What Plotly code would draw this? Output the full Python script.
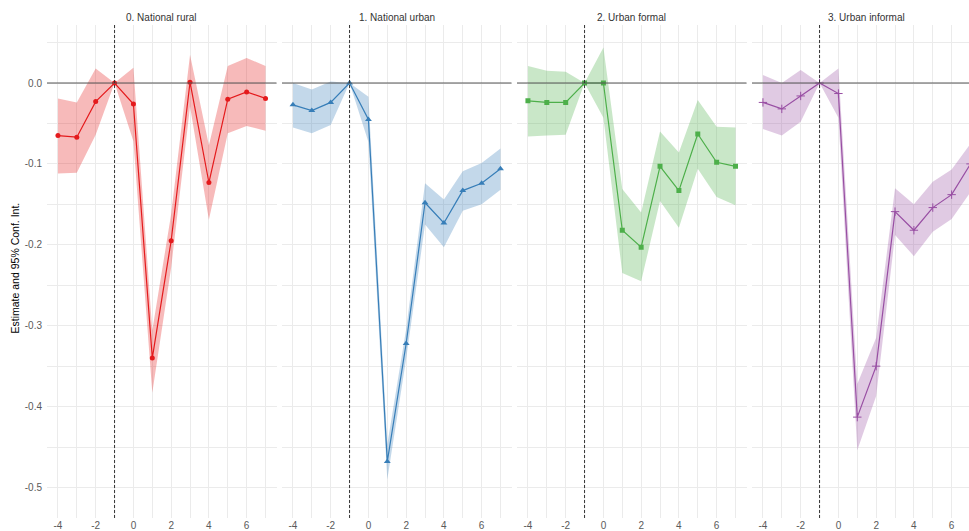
import plotly.graph_objects as go

# Event-time periods (relative to treatment)
periods = [-4, -3, -2, -1, 0, 1, 2, 3, 4, 5, 6, 7]

# Facet titles
panel_titles = ["0. National rural", "1. National urban", "2. Urban formal", "3. Urban informal"]

# Point estimates per sample
est_rural = [-0.065, -0.067, -0.023, 0.0, -0.026, -0.340, -0.195, 0.001, -0.123, -0.020, -0.011, -0.019]
est_urban = [-0.027, -0.034, -0.024, 0.0, -0.045, -0.468, -0.322, -0.148, -0.173, -0.133, -0.124, -0.106]
est_formal = [-0.022, -0.024, -0.024, 0.0, 0.0, -0.182, -0.203, -0.103, -0.133, -0.063, -0.098, -0.103]
est_informal = [-0.024, -0.032, -0.016, 0.0, -0.013, -0.413, -0.350, -0.159, -0.182, -0.154, -0.138, -0.100]

# 95% confidence bounds
hi_rural = [-0.019, -0.024, 0.018, 0.0, 0.019, -0.306, -0.162, 0.035, -0.077, 0.021, 0.031, 0.021]
lo_rural = [-0.112, -0.111, -0.064, 0.0, -0.072, -0.383, -0.228, -0.029, -0.169, -0.062, -0.053, -0.059]
hi_urban = [0.000, -0.008, 0.002, 0.0, -0.017, -0.447, -0.304, -0.124, -0.144, -0.109, -0.099, -0.081]
lo_urban = [-0.055, -0.062, -0.052, 0.0, -0.073, -0.490, -0.341, -0.175, -0.203, -0.158, -0.150, -0.132]
hi_formal = [0.021, 0.015, 0.014, 0.0, 0.044, -0.131, -0.160, -0.060, -0.086, -0.021, -0.054, -0.055]
lo_formal = [-0.066, -0.065, -0.064, 0.0, -0.043, -0.235, -0.245, -0.146, -0.179, -0.106, -0.141, -0.151]
hi_informal = [0.010, 0.000, 0.016, 0.0, 0.018, -0.372, -0.315, -0.130, -0.150, -0.122, -0.107, -0.075]
lo_informal = [-0.057, -0.065, -0.048, 0.0, -0.043, -0.454, -0.387, -0.188, -0.214, -0.184, -0.168, -0.135]

# Axis ticks
x_ticks = [-4, -2, 0, 2, 4, 6]
x_ticktext = ["-4", "-2", "0", "2", "4", "6"]
y_ticks = [0.0, -0.1, -0.2, -0.3, -0.4, -0.5]
y_ticktext = ["0.0", "-0.1", "-0.2", "-0.3", "-0.4", "-0.5"]

colors = ["#E41A1C", "#377EB8", "#4DAF4A", "#984EA3"]
fills = ["rgba(228,26,28,0.3)", "rgba(55,126,184,0.3)", "rgba(77,175,74,0.3)", "rgba(152,78,163,0.3)"]
symbols = ["circle", "triangle-up", "square", "cross-thin"]
marker_sizes = [5, 6, 5, 6]
estimates = [est_rural, est_urban, est_formal, est_informal]
uppers = [hi_rural, hi_urban, hi_formal, hi_informal]
lowers = [lo_rural, lo_urban, lo_formal, lo_informal]

W, H = 969, 531
px_per_unit = 18.87
panel_left = [47, 282, 517, 752]
panel_w = 229.5
x_lo = -4.58
y_top_px, y_bot_px = 25, 518
y_range = [-0.5377, 0.0717]
y_domain = [(H - y_bot_px) / H, (H - y_top_px) / H]

fig = go.Figure()
grid = "#EBEBEB"
tick_font = dict(family="Liberation Sans, Arial, sans-serif", size=10, color="#5A5A5A")

for i in range(4):
    n = "" if i == 0 else str(i + 1)
    left = panel_left[i]
    right = min(left + panel_w, W)
    x_hi = x_lo + (right - left) / px_per_unit
    xa = "x" + n
    ya = "y" + n

    # confidence band
    fig.add_trace(go.Scatter(
        x=periods + periods[::-1],
        y=uppers[i] + lowers[i][::-1],
        fill="toself", fillcolor=fills[i], line=dict(width=0),
        mode="lines", hoverinfo="skip", showlegend=False,
        xaxis=xa, yaxis=ya,
    ))
    # point estimates
    marker = dict(symbol=symbols[i], size=marker_sizes[i], color=colors[i])
    if i == 3:
        marker["line"] = dict(width=1, color=colors[i])
    fig.add_trace(go.Scatter(
        x=periods, y=estimates[i], mode="lines+markers",
        line=dict(color=colors[i], width=1.2), marker=marker,
        showlegend=False, xaxis=xa, yaxis=ya, cliponaxis=True,
    ))

    fig.layout["xaxis" + n] = dict(
        domain=[left / W, right / W], range=[x_lo, x_hi], anchor=ya,
        tickvals=x_ticks, ticktext=x_ticktext, tickfont=tick_font,
        showgrid=True, gridcolor=grid, gridwidth=1, zeroline=False,
        showline=False, ticks="", ticklabelstandoff=0,
        minor=dict(dtick=1, tick0=0, showgrid=True, gridcolor=grid, gridwidth=1),
    )
    fig.layout["yaxis" + n] = dict(
        domain=y_domain, range=y_range, anchor=xa,
        tickvals=y_ticks, ticktext=y_ticktext, tickfont=tick_font,
        showticklabels=(i == 0), showgrid=True, gridcolor=grid, gridwidth=1,
        zeroline=False, showline=False, ticks="", ticklabelstandoff=4,
        minor=dict(dtick=0.05, tick0=0, showgrid=True, gridcolor=grid, gridwidth=1),
    )

    # reference lines
    fig.add_shape(type="line", xref=xa + " domain", yref=ya, x0=0, x1=1, y0=0, y1=0,
                  line=dict(color="#555555", width=1))
    fig.add_shape(type="line", xref=xa, yref=ya + " domain", x0=-1, x1=-1, y0=0, y1=1,
                  line=dict(color="#333333", width=1, dash="3px,2px"))

    # facet title
    fig.add_annotation(
        text=panel_titles[i], xref="paper", yref="paper",
        x=(left + panel_w / 2) / W, y=(H - 17) / H, showarrow=False,
        font=dict(family="Liberation Sans, Arial, sans-serif", size=10, color="#333333"),
        xanchor="center", yanchor="middle",
    )

# y-axis title
fig.add_annotation(
    text="Estimate and 95% Conf. Int.", xref="paper", yref="paper",
    x=14.5 / W, y=(H - 268) / H, showarrow=False, textangle=-90,
    font=dict(family="Liberation Sans, Arial, sans-serif", size=10.5, color="#000000"),
    xanchor="center", yanchor="middle",
)

fig.update_layout(
    width=W, height=H, autosize=False,
    margin=dict(l=0, r=0, t=0, b=0),
    paper_bgcolor="white", plot_bgcolor="white",
    showlegend=False,
)

fig.write_html("out.html")
